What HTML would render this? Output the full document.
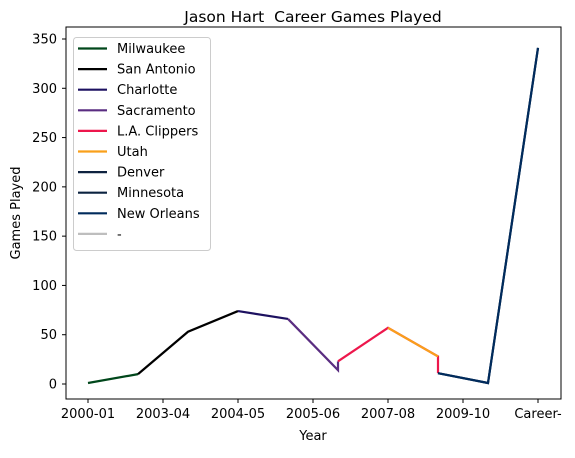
<!DOCTYPE html>
<html><head><meta charset="utf-8"><style>
body{margin:0;background:#fff;}
svg{font-family:"DejaVu Sans","Liberation Sans",sans-serif;}
</style></head><body>
<svg id="chart" width="575" height="453" xmlns="http://www.w3.org/2000/svg">
<rect width="575" height="453" fill="#fff"/>
<text x="313" y="22" font-size="15.5" text-anchor="middle" style="white-space:pre">Jason Hart  Career Games Played</text>
<g id="plot"></g>
<rect x="66" y="27" width="495" height="372" fill="none" stroke="#000" stroke-width="1"/>
<text x="313" y="440" font-size="13" text-anchor="middle">Year</text>
<text x="0" y="0" font-size="13" text-anchor="middle" transform="translate(20,213) rotate(-90)">Games Played</text>
<g id="axes"></g>
<g id="legend"></g>
</svg>
<script>
const teams = ["Milwaukee","San Antonio","Charlotte","Sacramento","L.A. Clippers","Utah","Denver","Minnesota","New Orleans","-"];
const teamColors = ["#00471B","#000000","#1D1160","#5A2D81","#ED174C","#F9A01B","#0E2240","#0C2340","#002B5C","#BEBEBE"];
const seriesX = [[0,1],[1,2,3],[3,4],[4,5,5],[5,6,7,7],[6,7],[7,8,9],[],[7,8,9],[]];
const seriesY = [[1,10],[10,53,74],[74,66],[66,14,23],[23,57,28,11],[57,28],[11,1,341],[],[11,1,341],[]];
const xTickPos = [0,1.5,3,4.5,6,7.5,9];
const xTickLabels = ["2000-01","2003-04","2004-05","2005-06","2007-08","2009-10","Career-"];
const yTicks = [0,50,100,150,200,250,300,350];

const NS="http://www.w3.org/2000/svg";
function xs(i){return 88+i*50;}
function ys(v){return 384-v*(345/350);}
const plot=document.getElementById('plot'), axes=document.getElementById('axes'), legend=document.getElementById('legend');
seriesX.forEach((xa,s)=>{
  if(!xa.length) return;
  const p=document.createElementNS(NS,'polyline');
  p.setAttribute('points',xa.map((x,i)=>xs(x)+','+ys(seriesY[s][i])).join(' '));
  p.setAttribute('fill','none');p.setAttribute('stroke',teamColors[s]);p.setAttribute('stroke-width','2.2');
  
  
  plot.appendChild(p);
});
xTickPos.forEach((t,i)=>{
  const l=document.createElementNS(NS,'line');
  l.setAttribute('x1',xs(t));l.setAttribute('x2',xs(t));l.setAttribute('y1',399);l.setAttribute('y2',403);l.setAttribute('stroke','#000');
  
  
  axes.appendChild(l);
  const tx=document.createElementNS(NS,'text');
  tx.setAttribute('x',xs(t));tx.setAttribute('y',418);tx.setAttribute('font-size','13');tx.setAttribute('text-anchor','middle');
  tx.textContent=xTickLabels[i];
  
  
  axes.appendChild(tx);
});
yTicks.forEach(v=>{
  const l=document.createElementNS(NS,'line');
  l.setAttribute('x1',62);l.setAttribute('x2',66);l.setAttribute('y1',ys(v));l.setAttribute('y2',ys(v));l.setAttribute('stroke','#000');
  
  
  axes.appendChild(l);
  const tx=document.createElementNS(NS,'text');
  tx.setAttribute('x',57);tx.setAttribute('y',ys(v)+4.5);tx.setAttribute('font-size','13');tx.setAttribute('text-anchor','end');
  tx.textContent=v;
  
  
  axes.appendChild(tx);
});
const box=document.createElementNS(NS,'rect');
box.setAttribute('x',73.5);box.setAttribute('y',37.5);box.setAttribute('width',137);box.setAttribute('height',213);box.setAttribute('rx',3);
box.setAttribute('fill','#fff');box.setAttribute('fill-opacity','0.8');box.setAttribute('stroke','#ccc');


legend.appendChild(box);
teams.forEach((t,i)=>{
  const y=48.5+i*20.6;
  const l=document.createElementNS(NS,'line');
  l.setAttribute('x1',78);l.setAttribute('x2',107);l.setAttribute('y1',y);l.setAttribute('y2',y);l.setAttribute('stroke',teamColors[i]);l.setAttribute('stroke-width','2.2');
  
  
  legend.appendChild(l);
  const tx=document.createElementNS(NS,'text');
  tx.setAttribute('x',117);tx.setAttribute('y',y+4.5);tx.setAttribute('font-size','13');
  tx.textContent=t;
  
  
  legend.appendChild(tx);
});
</script>
</body></html>
